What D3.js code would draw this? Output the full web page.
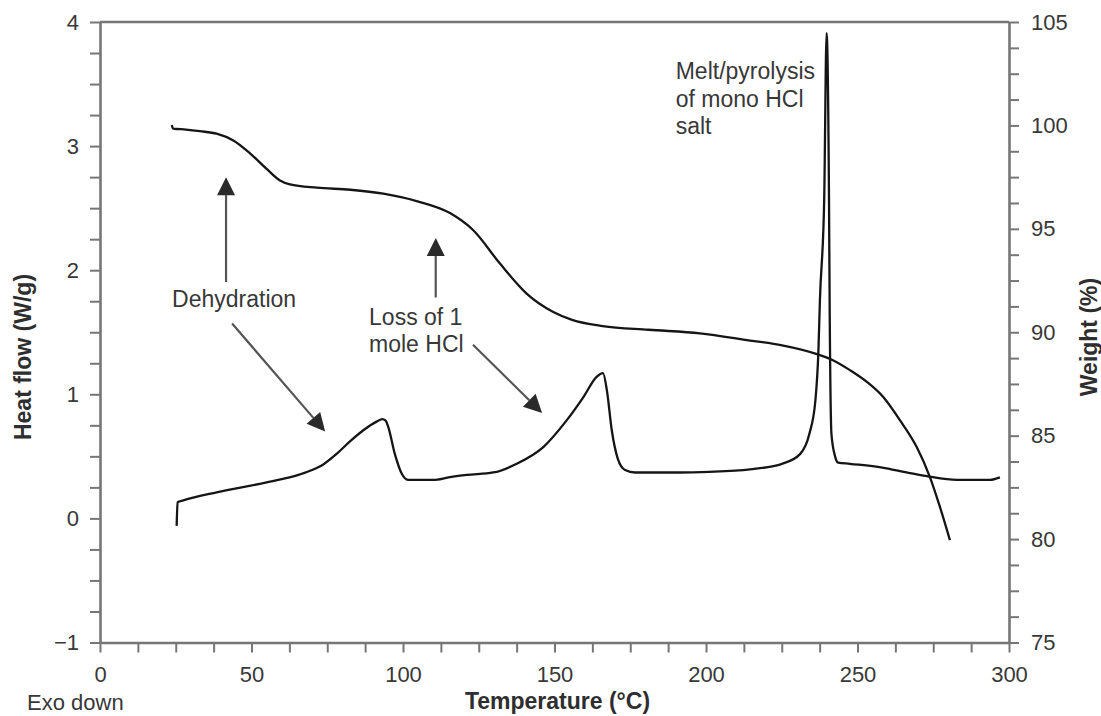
<!DOCTYPE html>
<html>
<head>
<meta charset="utf-8">
<script src="https://cdn.jsdelivr.net/npm/d3@7"></script>
<style>
  html, body { margin: 0; padding: 0; background: #fff; }
  svg { display: block; font-family: "Liberation Sans", Arial, Helvetica, sans-serif; }
</style>
</head>
<body>
<svg id="chart" width="1101" height="716"></svg>
<script>
// DSC heat-flow trace: temperature (°C) and heat flow (W/g)
const hfTemperature = [25.3, 25.6, 27.5, 38.5, 55.0, 66.0, 70.0, 73.7, 78.1, 82.5, 86.9, 91.3, 93.2, 94.2, 95.1, 97.3, 99.6, 101.8, 105.0, 110.0, 115.0, 121.0, 129.8, 137.5, 146.3, 154.0, 159.6, 163.9, 166.0, 167.3, 168.9, 170.9, 173.3, 176.6, 191.0, 201.0, 214.5, 225.1, 231.1, 234.1, 236.1, 237.1, 237.6, 239.0, 239.8, 240.6, 240.8, 241.4, 242.6, 243.6, 247.5, 258.2, 266.2, 272.9, 282.8, 293.7, 297.0];
const heatFlow      = [-0.06, 0.13, 0.145, 0.21, 0.29, 0.355, 0.39, 0.435, 0.52, 0.62, 0.71, 0.78, 0.80, 0.79, 0.74, 0.52, 0.36, 0.31, 0.31, 0.31, 0.33, 0.35, 0.37, 0.44, 0.575, 0.79, 0.98, 1.14, 1.17, 1.03, 0.71, 0.48, 0.39, 0.37, 0.37, 0.375, 0.395, 0.44, 0.52, 0.68, 0.95, 1.35, 1.76, 2.56, 3.91, 2.56, 1.76, 0.68, 0.50, 0.45, 0.44, 0.41, 0.37, 0.34, 0.31, 0.31, 0.33];

// TGA trace: temperature (°C) and remaining weight (%)
const wtTemperature = [23.7, 24.1, 28.4, 33.0, 38.5, 44.0, 49.5, 55.0, 59.4, 62.7, 71.6, 82.6, 93.5, 104.5, 115.5, 123.2, 132.0, 140.8, 149.6, 155.8, 165.9, 181.0, 198.0, 214.5, 225.1, 236.1, 241.9, 247.5, 253.1, 258.5, 264.0, 269.5, 273.9, 277.2, 280.5];
const weight        = [100.02, 99.85, 99.8, 99.72, 99.6, 99.27, 98.65, 97.9, 97.34, 97.15, 96.99, 96.89, 96.7, 96.34, 95.76, 94.93, 93.32, 91.87, 90.98, 90.6, 90.3, 90.12, 89.95, 89.6, 89.37, 88.97, 88.65, 88.17, 87.6, 86.87, 85.75, 84.46, 83.0, 81.56, 79.95];

// Axis extents and tick steps
const tempDomain = [0, 300];
const heatDomain = [-1, 4];
const weightDomain = [75, 105];
const tempTicks = d3.range(0, 300.001, 12.5);
const heatTicks = d3.range(-1, 4.001, 0.25);
const weightTicks = d3.range(75, 105.001, 1.25);

// Text labels
const xTitle = "Temperature (°C)";
const yLeftTitle = "Heat flow (W/g)";
const yRightTitle = "Weight (%)";
const cornerNote = "Exo down";

// Annotations placed in (temperature, heat flow) units
const notes = [
  { lines: ["Dehydration"], t: 23.8, h: 1.70 },
  { lines: ["Loss of 1", "mole HCl"], t: 88.8, h: 1.56 },
  { lines: ["Melt/pyrolysis", "of mono HCl", "salt"], t: 190.0, h: 3.54 }
];
const arrows = [
  { from: [41.6, 1.905], to: [41.6, 2.75] },
  { from: [110.8, 1.78], to: [110.8, 2.26] },
  { from: [43.6, 1.57], to: [74.3, 0.70] },
  { from: [123.1, 1.40], to: [145.9, 0.85] }
];

const svg = d3.select("#chart");
const plot = { left: 100, right: 1009, top: 22, bottom: 642.5 };

const x = d3.scaleLinear().domain(tempDomain).range([plot.left, plot.right]);
const yHeat = d3.scaleLinear().domain(heatDomain).range([plot.bottom, plot.top]);
const yWeight = d3.scaleLinear().domain(weightDomain).range([plot.bottom, plot.top]);

const axisColor = "#767676";
const textColor = "#383838";

function styleAxis(g) {
  g.select(".domain").attr("stroke", axisColor).attr("stroke-width", 2.6);
  g.selectAll(".tick line").attr("stroke", axisColor).attr("stroke-width", 2);
  g.selectAll(".tick text")
    .attr("fill", textColor)
    .style("font-size", "22px")
    .style("font-family", "'Liberation Sans', Arial, sans-serif");
}

const near = (v, step) => Math.abs(v / step - Math.round(v / step)) < 1e-6;

// Top frame line
svg.append("line")
  .attr("x1", plot.left).attr("x2", plot.right)
  .attr("y1", plot.top).attr("y2", plot.top)
  .attr("stroke", axisColor).attr("stroke-width", 2.6);

// Bottom (temperature) axis
svg.append("g")
  .attr("transform", `translate(0,${plot.bottom})`)
  .call(d3.axisBottom(x).tickValues(tempTicks).tickSize(10).tickPadding(14)
    .tickSizeOuter(0)
    .tickFormat(d => near(d, 50) ? d3.format("d")(d) : ""))
  .call(styleAxis);

// Left (heat flow) axis
svg.append("g")
  .attr("transform", `translate(${plot.left},0)`)
  .call(d3.axisLeft(yHeat).tickValues(heatTicks).tickSize(10).tickPadding(11)
    .tickSizeOuter(0)
    .tickFormat(d => near(d, 1) ? d3.format("d")(d) : ""))
  .call(styleAxis);

// Right (weight) axis
svg.append("g")
  .attr("transform", `translate(${plot.right},0)`)
  .call(d3.axisRight(yWeight).tickValues(weightTicks).tickSize(10).tickPadding(12)
    .tickSizeOuter(0)
    .tickFormat(d => near(d, 5) ? d3.format("d")(d) : ""))
  .call(styleAxis);

// Axis titles
svg.append("text")
  .attr("x", (plot.left + plot.right) / 2 + 3).attr("y", 709)
  .attr("text-anchor", "middle")
  .attr("fill", "#2e2e2e")
  .style("font-size", "23px").style("font-weight", "bold")
  .text(xTitle);

svg.append("text")
  .attr("transform", "translate(31,357) rotate(-90)")
  .attr("text-anchor", "middle")
  .attr("fill", "#2e2e2e")
  .style("font-size", "23px").style("font-weight", "bold")
  .text(yLeftTitle);

svg.append("text")
  .attr("transform", "translate(1097,337) rotate(-90)")
  .attr("text-anchor", "middle")
  .attr("fill", "#2e2e2e")
  .style("font-size", "23px").style("font-weight", "bold")
  .text(yRightTitle);

svg.append("text")
  .attr("x", 27).attr("y", 710)
  .attr("fill", textColor)
  .style("font-size", "22px")
  .text(cornerNote);

// Curves
const heatData = hfTemperature.map((t, i) => [t, heatFlow[i]]);
const weightData = wtTemperature.map((t, i) => [t, weight[i]]);

const heatLine = d3.line()
  .x(d => x(d[0])).y(d => yHeat(d[1]))
  .curve(d3.curveMonotoneX);
const weightLine = d3.line()
  .x(d => x(d[0])).y(d => yWeight(d[1]))
  .curve(d3.curveMonotoneX);

svg.append("path")
  .datum(weightData)
  .attr("d", weightLine)
  .attr("fill", "none").attr("stroke", "#151515")
  .attr("stroke-width", 2.3).attr("stroke-linejoin", "round");

svg.append("path")
  .datum(heatData)
  .attr("d", heatLine)
  .attr("fill", "none").attr("stroke", "#151515")
  .attr("stroke-width", 2.3).attr("stroke-linejoin", "round");

// Annotation text
notes.forEach(n => {
  const t = svg.append("text")
    .attr("x", x(n.t)).attr("y", yHeat(n.h))
    .attr("fill", textColor)
    .style("font-size", "23px");
  n.lines.forEach((line, i) => {
    t.append("tspan")
      .attr("x", x(n.t))
      .attr("dy", i === 0 ? 0 : 27.5)
      .text(line);
  });
});

// Annotation arrows: grey shaft with dark filled head
const headLen = 18, headHalf = 9;
arrows.forEach(a => {
  const x1 = x(a.from[0]), y1 = yHeat(a.from[1]);
  const x2 = x(a.to[0]), y2 = yHeat(a.to[1]);
  const ang = Math.atan2(y2 - y1, x2 - x1);
  const bx = x2 - headLen * Math.cos(ang), by = y2 - headLen * Math.sin(ang);
  svg.append("line")
    .attr("x1", x1).attr("y1", y1).attr("x2", bx).attr("y2", by)
    .attr("stroke", "#555").attr("stroke-width", 2.2);
  const px = -Math.sin(ang), py = Math.cos(ang);
  svg.append("path")
    .attr("d", `M${x2},${y2}L${bx + headHalf * px},${by + headHalf * py}L${bx - headHalf * px},${by - headHalf * py}Z`)
    .attr("fill", "#2a2a2a");
});
</script>
</body>
</html>
